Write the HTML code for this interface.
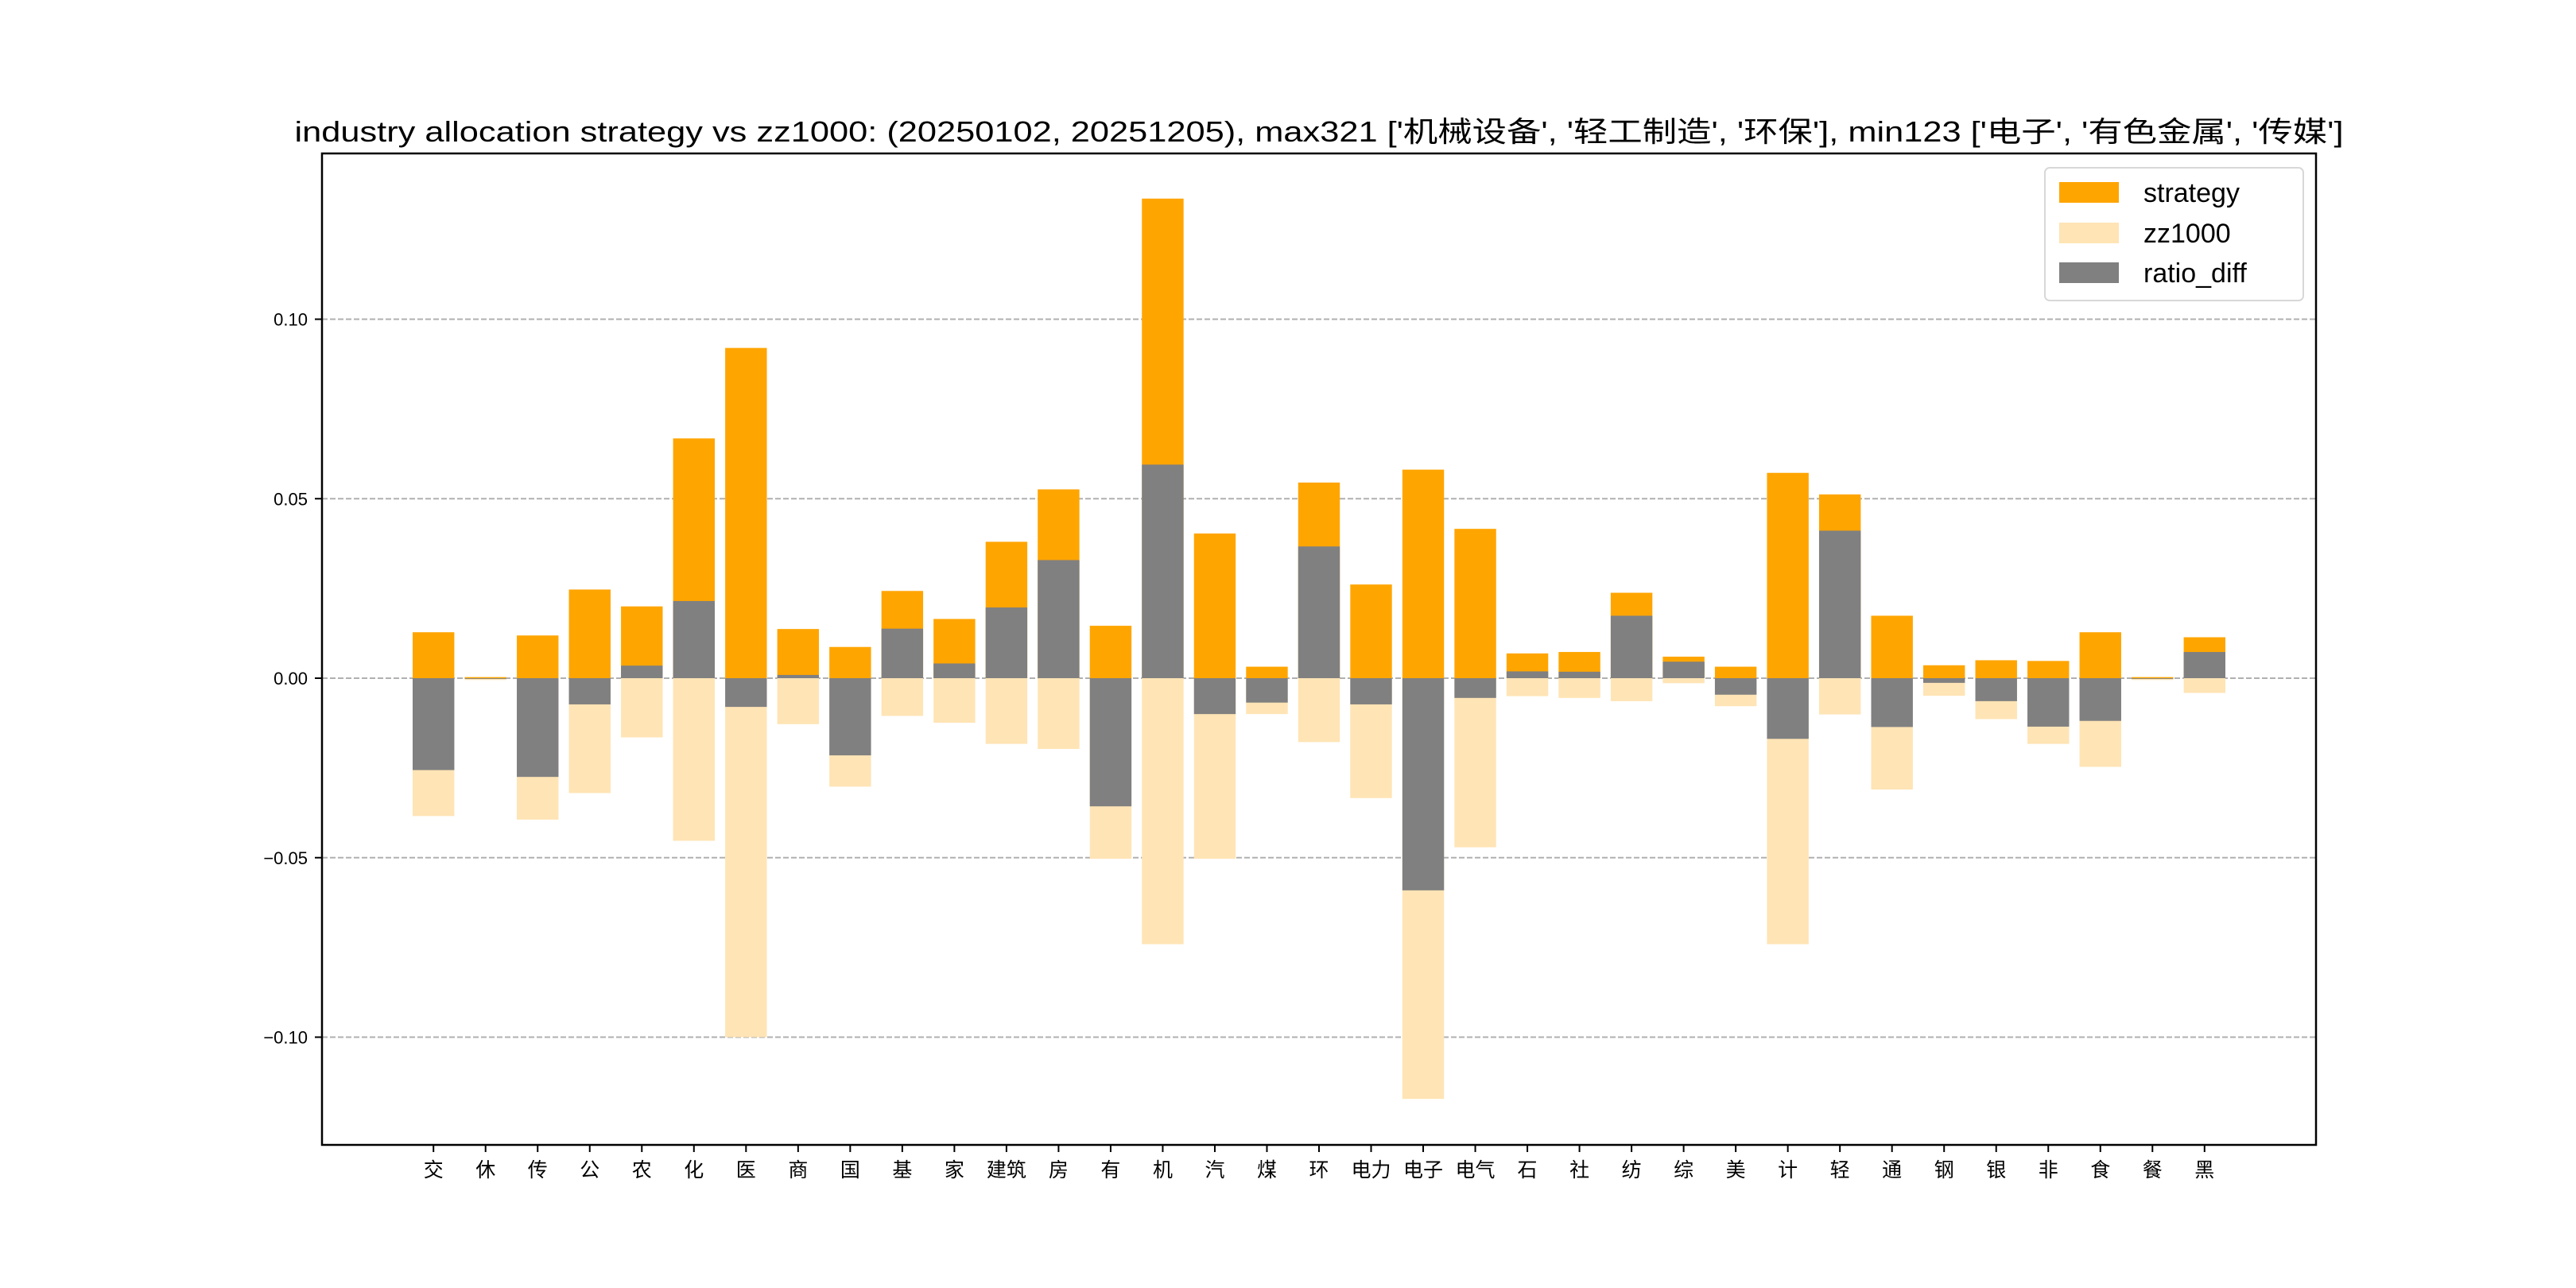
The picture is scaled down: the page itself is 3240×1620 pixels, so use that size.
<!DOCTYPE html>
<html><head><meta charset="utf-8"><style>
html,body{margin:0;padding:0;background:#fff;}
svg{display:block;}
text{font-family:"Liberation Sans","Noto Sans CJK SC",sans-serif;}
</style></head><body>
<svg id="chart" width="3240" height="1620" viewBox="0 0 3240 1620" xmlns="http://www.w3.org/2000/svg">
<rect width="3240" height="1620" fill="#fff"/>
<text x="1659" y="178" font-size="36" text-anchor="middle" textLength="2577" lengthAdjust="spacingAndGlyphs">industry allocation strategy vs zz1000: (20250102, 20251205), max321 ['机械设备', '轻工制造', '环保'], min123 ['电子', '有色金属', '传媒']</text>
<g id="grid"></g>
<g id="bars"></g>
<g id="axes"></g>
<g>
<rect x="2572" y="211" width="325" height="167" rx="6" fill="#fff" fill-opacity="0.8" stroke="#d8d8d8" stroke-width="2"/>
<rect x="2590" y="229" width="75" height="26" fill="#FFA500"/>
<text x="2696" y="254" font-size="34">strategy</text>
<rect x="2590" y="280" width="75" height="26" fill="#FFE4B5"/>
<text x="2696" y="305" font-size="34">zz1000</text>
<rect x="2590" y="330" width="75" height="26" fill="#808080"/>
<text x="2696" y="355" font-size="34">ratio_diff</text>
</g>
</svg>
<script>
const categories = ["交","休","传","公","农","化","医","商","国","基","家","建筑","房","有","机","汽","煤","环","电力","电子","电气","石","社","纺","综","美","计","轻","通","钢","银","非","食","餐","黑"];
const strategyValues = [0.0128,0.0003,0.0119,0.0247,0.0200,0.0668,0.0920,0.0137,0.0087,0.0243,0.0165,0.0380,0.0526,0.0146,0.1336,0.0403,0.0032,0.0545,0.0261,0.0581,0.0416,0.0069,0.0073,0.0238,0.0060,0.0032,0.0572,0.0512,0.0174,0.0036,0.0050,0.0048,0.0128,0.0003,0.0114];
const zz1000Values = [0.0384,0.0005,0.0394,0.0320,0.0165,0.0453,0.1000,0.0128,0.0302,0.0105,0.0124,0.0183,0.0197,0.0503,0.0741,0.0503,0.0100,0.0178,0.0334,0.1172,0.0471,0.0050,0.0055,0.0064,0.0014,0.0078,0.0741,0.0101,0.0310,0.0049,0.0114,0.0183,0.0247,0.0005,0.0041];
const ratioDiffValues = [-0.0256,-0.0002,-0.0275,-0.0073,0.0035,0.0215,-0.0080,0.0009,-0.0215,0.0138,0.0041,0.0197,0.0329,-0.0357,0.0595,-0.0100,-0.0068,0.0367,-0.0073,-0.0591,-0.0055,0.0019,0.0018,0.0174,0.0046,-0.0046,-0.0169,0.0411,-0.0136,-0.0013,-0.0064,-0.0135,-0.0119,-0.0002,0.0073];
const yTicks = [-0.10,-0.05,0.00,0.05,0.10];
const yTickLabels = ["−0.10","−0.05","0.00","0.05","0.10"];

const NS = "http://www.w3.org/2000/svg";
const L = 405, R = 2913, T = 193, B = 1440;
const y0 = 853, pxPerUnit = 4515;
const n = categories.length;
const xMin = -0.4 - 0.05 * (n - 1 + 0.8), xMax = (n - 1) + 0.4 + 0.05 * (n - 1 + 0.8);
function xScale(i){ return L + (i - xMin) / (xMax - xMin) * (R - L); }
function yScale(v){ return y0 - v * pxPerUnit; }
const bw = 0.8 * (R - L) / (xMax - xMin);

function el(tag, attrs, parent){
  const e = document.createElementNS(NS, tag);
  for (const k in attrs) e.setAttribute(k, attrs[k]);
  parent.appendChild(e);
  return e;
}
const grid = document.getElementById('grid');
const bars = document.getElementById('bars');
const axes = document.getElementById('axes');

yTicks.forEach((t, i) => {
  const y = yScale(t);
  const g = el('line', {x1:L, x2:R, y1:y, y2:y, stroke:'#b0b0b0', 'stroke-width':2, 'stroke-dasharray':'7,3'}, grid);
  
  
  const tk = el('line', {x1:L-9, x2:L, y1:y, y2:y, stroke:'#000', 'stroke-width':2}, axes);
  
  
  const tx = el('text', {x:L-18, y:y+8, 'font-size':22, 'text-anchor':'end'}, axes);
  tx.textContent = yTickLabels[i];
  
  
});

function drawBar(i, v, color, name){
  const x = xScale(i) - bw / 2;
  const ya = yScale(Math.max(v, 0)), yb = yScale(Math.min(v, 0));
  const r = el('rect', {x:x, y:ya, width:bw, height:Math.max(yb - ya, 0.5), fill:color}, bars);
  
  
}
for (let i = 0; i < n; i++) drawBar(i, strategyValues[i], '#FFA500', 'bar-strategy');
for (let i = 0; i < n; i++) drawBar(i, -zz1000Values[i], '#FFE4B5', 'bar-zz1000');
for (let i = 0; i < n; i++) drawBar(i, ratioDiffValues[i], '#808080', 'bar-ratio-diff');

categories.forEach((c, i) => {
  const x = xScale(i);
  const tk = el('line', {x1:x, x2:x, y1:B, y2:B+9, stroke:'#000', 'stroke-width':2}, axes);
  
  
  const tx = el('text', {x:x, y:B+40, 'font-size':25, 'text-anchor':'middle'}, axes);
  tx.textContent = c;
  
  
});
const frame = el('rect', {x:L, y:T, width:R-L, height:B-T, fill:'none', stroke:'#000', 'stroke-width':2.5}, axes);


</script>
</body></html>
